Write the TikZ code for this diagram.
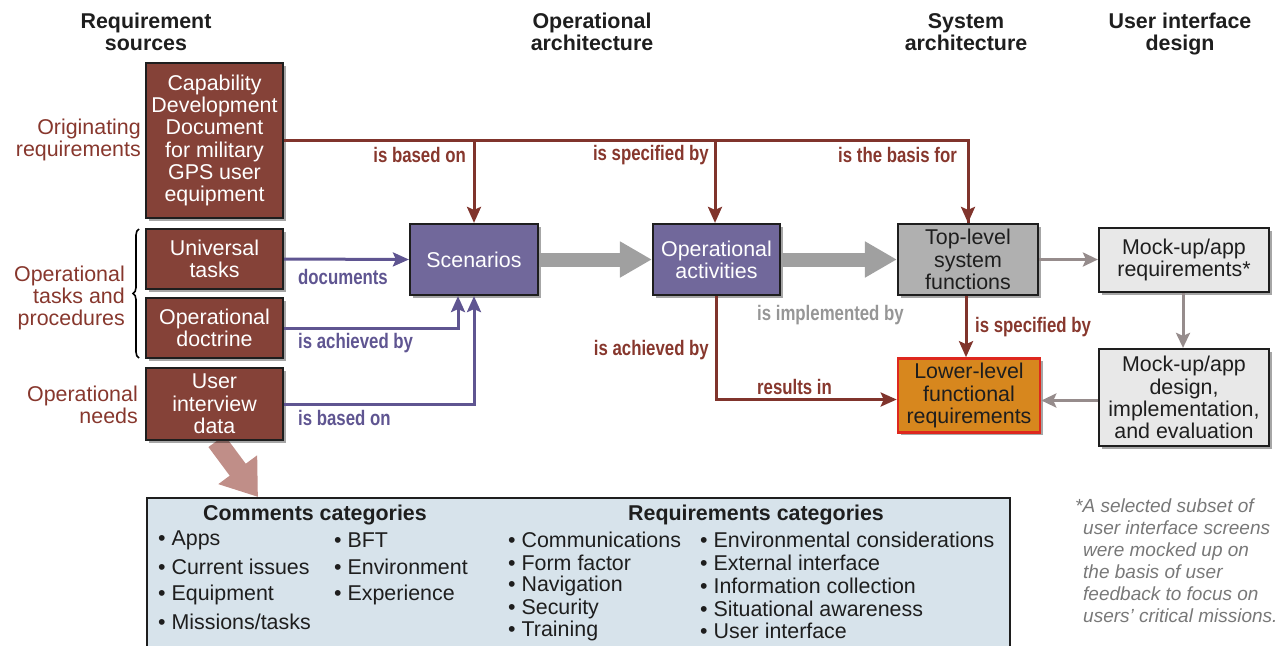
\documentclass[tikz,border=0pt]{standalone}
\usepackage{fontspec}
\setmainfont{Liberation Sans}
\newfontfamily\condfont[FakeStretch=0.8]{Liberation Sans}
\usetikzlibrary{arrows.meta,shadows,decorations.pathreplacing}
\definecolor{cbrown}{RGB}{133,66,56}
\definecolor{cbrownln}{RGB}{128,52,44}
\definecolor{cbrowntx}{RGB}{135,55,45}
\definecolor{cpurple}{RGB}{113,104,155}
\definecolor{cpurpleln}{RGB}{95,85,145}
\definecolor{cgraybox}{RGB}{176,176,176}
\definecolor{clightbox}{RGB}{232,232,232}
\definecolor{corange}{RGB}{215,135,30}
\definecolor{cred}{RGB}{222,40,30}
\definecolor{cbig}{RGB}{160,160,160}
\definecolor{cthin}{RGB}{150,140,140}
\definecolor{cpink}{RGB}{192,142,136}
\definecolor{cblue}{RGB}{215,227,235}
\definecolor{cgraytx}{RGB}{150,150,150}
\definecolor{cnote}{RGB}{120,120,120}
\definecolor{cdark}{RGB}{30,30,30}
\pgfdeclarelayer{bg}
\pgfsetlayers{bg,main}
\tikzset{
  mainfont/.style={font=\fontsize{21.4}{22.3}\selectfont},
  boxbase/.style={mainfont, draw=cdark, line width=2.2pt, align=center, inner sep=0pt,
    drop shadow={shadow xshift=2.5pt, shadow yshift=-2.5pt, opacity=0.35, fill=black}},
  brownbox/.style={boxbase, fill=cbrown, text=white},
  purplebox/.style={boxbase, fill=cpurple, text=white},
  graybox/.style={boxbase, fill=cgraybox, text=cdark},
  lightbox/.style={boxbase, fill=clightbox, text=cdark},
  orangebox/.style={boxbase, fill=corange, draw=cred, line width=2.6pt, text=cdark},
  header/.style={font=\fontsize{21.4}{22.3}\selectfont\bfseries, align=center, inner sep=0pt, text=cdark},
  sidelabel/.style={mainfont, align=right, inner sep=0pt, text=cbrowntx, anchor=east},
  elabel/.style={font=\fontsize{21}{22}\selectfont\condfont\bfseries, inner sep=0pt},
  brownarrow/.style={draw=cbrownln, line width=3pt, -{Stealth[length=16pt,width=14pt,inset=3pt]}},
  purplearrow/.style={draw=cpurpleln, line width=3pt, -{Stealth[length=16pt,width=14pt,inset=3pt]}},
  thinarrow/.style={draw=cthin, line width=3pt, -{Stealth[length=15pt,width=14pt,inset=3pt]}},
  brownline/.style={draw=cbrownln, line width=3pt},
  bigarrow/.style={draw=cbig, line width=14pt, -{Triangle[length=32pt,width=34pt]}},
  pinkarrow/.style={draw=cpink, line width=20pt, -{Triangle[length=34pt,width=46pt]}},
  item/.style={mainfont, anchor=west, inner sep=0pt, text=cdark},
  cathead/.style={font=\fontsize{21.4}{22.3}\selectfont\bfseries, inner sep=0pt, text=cdark},
}
\begin{document}
\begin{tikzpicture}[x=1pt,y=-1pt]
\useasboundingbox (0,0) rectangle (1281,645);
\clip (0,0) rectangle (1281,645);

% headers
\node[header] (h1) at (146,32) {Requirement\\sources};
\node[header] (h2) at (592,32) {Operational\\architecture};
\node[header] (h3) at (966,32) {System\\architecture};
\node[header] (h4) at (1180,34) {User interface\\design};

% side labels
\node[sidelabel] (s1) at (141,140) {Originating\\requirements};
\node[sidelabel] (s2) at (125,298) {Operational\\tasks and\\procedures};
\node[sidelabel] (s3) at (138,405) {Operational\\needs};
\draw[line width=1.6pt, decorate, decoration={brace, amplitude=6pt}] (139,358) -- (139,229);

% bottom box
\node[draw=cdark, line width=2pt, fill=cblue, anchor=north west, minimum width=863pt, minimum height=180pt, inner sep=0pt] (bb) at (146,497) {};

% boxes
\node[brownbox, minimum width=137pt, minimum height=155pt] (cdd) at (214.5,140.5) {Capability\\Development\\Document\\for military\\GPS user\\equipment};
\node[brownbox, minimum width=137pt, minimum height=60pt] (ut) at (214.5,259) {Universal\\tasks};
\node[brownbox, minimum width=137pt, minimum height=60pt] (od) at (214.5,328) {Operational\\doctrine};
\node[brownbox, minimum width=137pt, minimum height=72pt] (ui) at (214.5,404) {User\\interview\\data};
\node[purplebox, minimum width=128pt, minimum height=71pt] (scen) at (474,259.5) {Scenarios};
\node[purplebox, minimum width=127pt, minimum height=71pt] (oa) at (716.5,259.5) {Operational\\activities};
\node[graybox, minimum width=140pt, minimum height=71pt] (tl) at (968,259.5) {Top-level\\system\\functions};
\node[lightbox, minimum width=170pt, minimum height=64pt] (mr) at (1184,260) {Mock-up/app\\requirements*};
\node[lightbox, minimum width=170pt, minimum height=97pt] (md) at (1184,397.5) {Mock-up/app\\design,\\implementation,\\and evaluation};
\node[orangebox, minimum width=142pt, minimum height=74pt] (ll) at (969,395.5) {Lower-level\\functional\\requirements};

% pink arrow
\begin{pgfonlayer}{bg}
\coordinate (pk) at ([xshift=112pt]bb.north west);
\draw[pinkarrow] ([xshift=2pt]ui.south) -- (pk);
\end{pgfonlayer}

% brown top connectors
\draw[brownline] (cdd.east) -| (tl.north);
\draw[brownarrow] ([yshift=-2pt]tl.north |- cdd.east) -- (tl.north);
\coordinate (j1) at (scen.north |- cdd.east);
\coordinate (j2) at ([xshift=-1.5pt]oa.north |- cdd.east);
\draw[brownarrow] (j1) -- (scen.north);
\draw[brownarrow] (j2) -- ([xshift=-1.5pt]oa.north);
\node[elabel, text=cbrowntx, anchor=east] (l1) at (466,155) {is based on};
\node[elabel, text=cbrowntx, anchor=east] (l2) at (709,155) {is specified by};
\node[elabel, text=cbrowntx, anchor=east] (l3) at (957,155) {is the basis for};

% purple connectors
\draw[purplearrow] (ut.east) -- (scen.west);
\coordinate (sb1) at ([xshift=-16pt]scen.south);
\draw[purplearrow] (od.east) -| (sb1);
\draw[purplearrow] (ui.east) -| (scen.south);
\node[elabel, text=cpurpleln, anchor=west] (l4) at (298,277) {documents};
\node[elabel, text=cpurpleln, anchor=west] (l5) at (298,343) {is achieved by};
\node[elabel, text=cpurpleln, anchor=west] (l6) at (298,418) {is based on};

% big gray arrows
\draw[bigarrow] (scen.east) -- (oa.west);
\draw[bigarrow] (oa.east) -- (tl.west);
\node[elabel, text=cgraytx, anchor=west] (l7) at (757,315) {is implemented by};

% right side thin arrows
\draw[thinarrow] (tl.east) -- (tl.east -| mr.west);
\draw[thinarrow] ([xshift=-1pt]mr.south) -- ([xshift=-1pt]md.north);
\draw[thinarrow] ([yshift=-3pt]md.west) -- ([yshift=-3pt]md.west -| ll.east);

% brown lower connectors
\coordinate (lw) at ([yshift=-4pt]ll.west);
\draw[brownarrow] (oa.south) |- (lw);
\draw[brownarrow] ([xshift=-2pt]tl.south) -- ([xshift=-2pt]tl.south |- ll.north);
\node[elabel, text=cbrowntx, anchor=east] (l8) at (709,350) {is achieved by};
\node[elabel, text=cbrowntx, anchor=west] (l9) at (757,387) {results in};
\node[elabel, text=cbrowntx, anchor=west] (l10) at (975,327) {is specified by};

% bottom box text
\node[cathead] (c1) at (315,515) {Comments categories};
\node[cathead] (c2) at (756,515) {Requirements categories};
\node[item] (a1) at (158,540) {• Apps};
\node[item] (a2) at (158,567) {• Current issues};
\node[item] (a3) at (158,595) {• Equipment};
\node[item] (a4) at (158,622) {• Missions/tasks};
\node[item] (b1) at (334,540) {• BFT};
\node[item] (b2) at (334,567) {• Environment};
\node[item] (b3) at (334,595) {• Experience};
\node[item] (r1) at (508,540) {• Communications};
\node[item] (r2) at (508,563) {• Form factor};
\node[item] (r3) at (508,586) {• Navigation};
\node[item] (r4) at (508,609) {• Security};
\node[item] (r5) at (508,631) {• Training};
\node[item] (q1) at (700,540) {• Environmental considerations};
\node[item] (q2) at (700,563) {• External interface};
\node[item] (q3) at (700,586) {• Information collection};
\node[item] (q4) at (700,609) {• Situational awareness};
\node[item] (q5) at (700,631) {• User interface};

% footnote
\node[font=\fontsize{19}{22}\selectfont\itshape, text=cnote, align=left, anchor=north west, inner sep=0pt] (fn) at (1075,499)
 {*A selected subset of\\\hspace*{8pt}user interface screens\\\hspace*{8pt}were mocked up on\\\hspace*{8pt}the basis of user\\\hspace*{8pt}feedback to focus on\\\hspace*{8pt}users’ critical missions.};
\end{tikzpicture}
\end{document}
